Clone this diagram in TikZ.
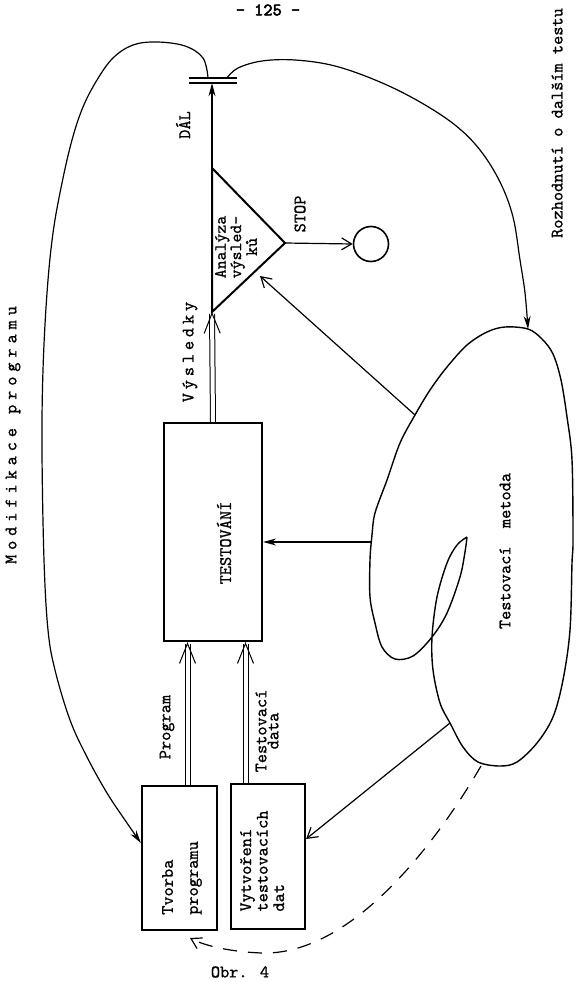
\documentclass[tikz,border=0pt]{standalone}
\usepackage{fontspec}
\newfontfamily\tw{lmmono10-regular}[Extension=.otf, FakeBold=0.9]
\newfontfamily\twwide{lmmono10-regular}[Extension=.otf, FakeBold=0.9, LetterSpace=28]
\newfontfamily\twmid{lmmono10-regular}[Extension=.otf, FakeBold=0.9, LetterSpace=22]
\newfontfamily\twbold{lmmono10-regular}[Extension=.otf, FakeBold=3]
\usetikzlibrary{arrows.meta}

\newcommand{\lblfont}{\tw\fontsize{17.5}{20}\selectfont}

\begin{document}
\begin{tikzpicture}[
    x=1pt, y=-1pt,
    block/.style={draw, line width=2.2pt, inner sep=0pt},
    vtext/.style={rotate=90, font=\lblfont, inner sep=0pt},
    link/.style={line width=1.2pt},
    barb/.style={link, -{Straight Barb[length=10pt, width=12pt, line width=1.2pt]}},
    sharp/.style={link, -{Stealth[length=13pt, width=7pt]}},
    dbl/.style={double, double distance=4pt, line width=1pt, -{Straight Barb[length=20pt, width=16pt, line width=1pt]}}
]
    \useasboundingbox (0,0) rectangle (585,982);

    % Page number
    \node[font=\twbold\fontsize{17.5}{20}\selectfont] (page) at (268,10) {- 125 -};

    % Blocks
    \node[block, minimum width=98pt, minimum height=218pt] (test) at (213,532) {};
    \node[vtext] (testtxt) at (224,543) {TESTOVÁNÍ};
    \node[block, minimum width=75pt, minimum height=144pt] (prog) at (179.5,858) {};
    \node[vtext, align=left] (progtxt) at (182,878) {Tvorba\\[5pt]programu};
    \node[block, minimum width=74pt, minimum height=145pt] (data) at (268,856.5) {};
    \node[vtext, align=left, font=\tw\fontsize{17.5}{16.5}\selectfont] (datatxt) at (262,861) {Vytvoření\\testovacích\\dat};

    % Analysis triangle
    \coordinate (tritop) at (212,168);
    \coordinate (tribot) at (212,312);
    \coordinate (triapex) at (285,243);
    \coordinate (triedge) at (260,276);
    \draw[line width=2pt] (tritop) -- (triapex) -- (tribot) -- cycle;
    \node[vtext, align=center, font=\tw\fontsize{17}{12.5}\selectfont] (anatxt) at (236,247) {Analýza\\výsled-\\ků};

    % Stop and gate
    \node[circle, draw, line width=1.6pt, minimum size=35pt, inner sep=0pt] (stop) at (371,244) {};
    \node[minimum width=47pt, minimum height=5pt, inner sep=0pt] (bar) at (213,80.5) {};
    \draw[line width=1.5pt] (bar.north west) -- (bar.north east) (bar.south west) -- (bar.south east);

    % Test method
    \coordinate (mtip) at (467,537);
    \coordinate (mtop) at (528,329);
    \coordinate (mtri) at (415,415);
    \coordinate (mtest) at (371,542);
    \coordinate (mdat) at (450,723);
    \coordinate (mbot) at (481,766);
    \draw[line width=1.4pt] plot[smooth, tension=0.55] coordinates {(mtip) (465,552) (460,577) (447,613) (432,637) (413,656) (395,659) (382,647) (375,623) (370,597) (370,560) (372,535) (375,513) (387,480) (400,443) (mtri) (430,390) (447,367) (467,345) (487,332) (505,327) (mtop) (542,339) (553,354) (561,380) (567,417) (572,460) (573,540) (572,563) (570,630) (563,680) (553,717) (537,743) (517,762) (500,766) (478,762) (463,747) (mdat) (440,703) (433,670) (432,637) (437,597) (447,563) (457,545) (mtip)};

    % Labels
    \node[vtext, font=\twmid\fontsize{17.5}{20}\selectfont] (res) at (190,352) {Výsledky};
    \node[vtext] (dal) at (183,125) {DÁL};
    \node[vtext] (stoptxt) at (300,214) {STOP};
    \node[vtext] (proglbl) at (167,727) {Program};
    \node[vtext, align=center, font=\tw\fontsize{17.5}{12}\selectfont] (datalbl) at (267,731) {Testovací\\data};
    \node[vtext, font=\twwide\fontsize{17.5}{20}\selectfont] (modif) at (13,435) {Modifikace programu};
    \node[vtext] (decide) at (557,123) {Rozhodnutí o dalším testu};
    \node[vtext] (method) at (505,551) {Testovací\ \ metoda};
    \node[font=\lblfont] (fig) at (240,972) {Obr. 4};

    % Arrows
    \draw[sharp] (tritop) -- (tritop |- bar.south);
    \draw[dbl] (test.north) -- (tribot);
    \draw[barb] (triapex) -- (stop.west);
    \draw[barb] (mtri) -- (triedge);
    \draw[sharp] (mtest) -- (mtest -| test.east);
    \draw[barb] (mdat) -- ([yshift=17.5pt]data.east);
    \draw[dbl] ([xshift=8pt]prog.north) -- ([xshift=8pt]prog.north |- test.south);
    \draw[dbl] ([xshift=-22.5pt]data.north) -- ([xshift=-22.5pt]data.north |- test.south);

    % Feedback loops
    \coordinate (dashend) at (190,938);
    \draw[barb, dash pattern=on 14pt off 11pt] (mbot) .. controls (420,870) and (340,955) .. (262,953) .. controls (232,952) and (205,946) .. (dashend);
    \draw[sharp] plot[smooth, tension=0.6] coordinates {([xshift=-5pt]bar.north) (203,58) (185,46) (157,42) (133,45) (113,58) (97,80) (83,107) (72,140) (62,183) (53,233) (47,293) (43,370) (42,450) (44,560) (48,630) (55,670) (70,720) (87,757) (107,793) (127,823) ([yshift=15pt]prog.west)};
    \draw[sharp] plot[smooth, tension=0.6] coordinates {([xshift=14pt]bar.north) (238,68) (262,61) (295,60) (335,66) (380,82) (420,102) (455,125) (480,150) (500,182) (513,217) (520,260) (525,293) (mtop)};
\end{tikzpicture}
\end{document}
